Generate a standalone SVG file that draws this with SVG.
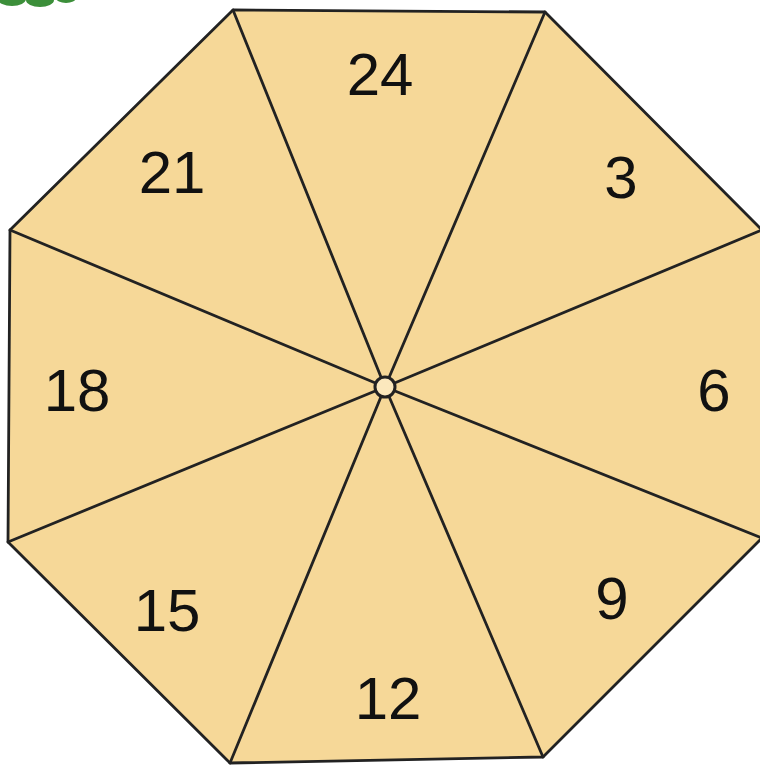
<svg xmlns="http://www.w3.org/2000/svg" width="760" height="766" viewBox="0 0 760 766">
<style>
.spoke{stroke:#222;stroke-width:2.8;fill:none;stroke-linecap:round}
.lbl{font-family:"Liberation Sans",Arial,sans-serif;font-size:60px;fill:#111;text-anchor:middle}
</style>
<rect width="760" height="766" fill="#fff"/>
<g id="leaf" fill="#3c8f3a">
<ellipse cx="12" cy="-1" rx="14" ry="7"/>
<ellipse cx="40" cy="0" rx="14" ry="7"/>
<ellipse cx="66" cy="-2" rx="10" ry="5"/>
</g>
<g id="octagon">
<polygon points="233,10 545,12 762,230 762,538 543,757 230,763 8,542 10,230" fill="#f6d898" stroke="#222" stroke-width="2.8" stroke-linejoin="round"/>
</g>
<g id="connectors">
<line class="spoke" x1="233" y1="10" x2="385" y2="387"/>
<line class="spoke" x1="545" y1="12" x2="385" y2="387"/>
<line class="spoke" x1="762" y1="230" x2="385" y2="387"/>
<line class="spoke" x1="762" y1="538" x2="385" y2="387"/>
<line class="spoke" x1="543" y1="757" x2="385" y2="387"/>
<line class="spoke" x1="230" y1="763" x2="385" y2="387"/>
<line class="spoke" x1="8" y1="542" x2="385" y2="387"/>
<line class="spoke" x1="10" y1="230" x2="385" y2="387"/>
</g>
<g id="hub"><circle cx="385" cy="387" r="10" fill="#fbe8bd" stroke="#222" stroke-width="3"/></g>
<g id="s24"><text class="lbl" x="380" y="95">24</text></g>
<g id="s3"><text class="lbl" x="621" y="198">3</text></g>
<g id="s6"><text class="lbl" x="714" y="411">6</text></g>
<g id="s9"><text class="lbl" x="612" y="619">9</text></g>
<g id="s12"><text class="lbl" x="388" y="719">12</text></g>
<g id="s15"><text class="lbl" x="167" y="631">15</text></g>
<g id="s18"><text class="lbl" x="77" y="411">18</text></g>
<g id="s21"><text class="lbl" x="172" y="193">21</text></g>
</svg>
